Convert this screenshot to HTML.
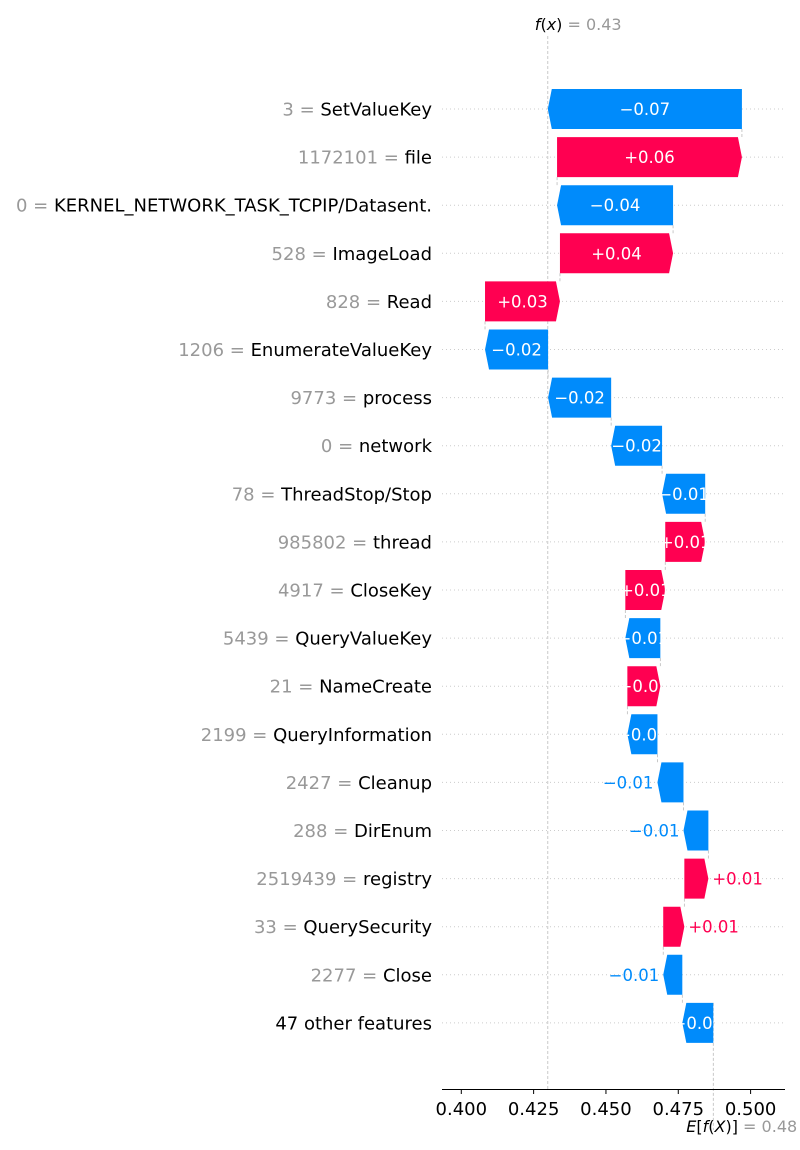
<!DOCTYPE html>
<html><head><meta charset="utf-8"><style>
body{margin:0;background:#fff;}
svg{display:block;font-family:"DejaVu Sans","Liberation Sans",sans-serif;}
</style></head><body>
<svg id="chart" width="800" height="1150" viewBox="0 0 800 1150" xmlns="http://www.w3.org/2000/svg"></svg>
<script>
const featureValues = ["3","1172101","0","528","828","1206","9773","0","78","985802","4917","5439","21","2199","2427","288","2519439","33","2277",""];
const featureNames = ["SetValueKey","file","KERNEL_NETWORK_TASK_TCPIP/Datasent.","ImageLoad","Read","EnumerateValueKey","process","network","ThreadStop/Stop","thread","CloseKey","QueryValueKey","NameCreate","QueryInformation","Cleanup","DirEnum","registry","QuerySecurity","Close","47 other features"];
const shapValues = [-0.0671,0.0639,-0.0401,0.0391,0.0259,-0.0218,-0.0218,-0.0176,-0.0149,0.0138,0.0138,-0.0121,0.0114,-0.0104,-0.0090,-0.0086,0.0083,0.0073,-0.0066,-0.0107];
const baseValue = 0.4871;
const baseValueLabel = "0.48";
const fxValueLabel = "0.43";
const xTicks = [0.400,0.425,0.450,0.475,0.500];
const xTickLabels = ["0.400","0.425","0.450","0.475","0.500"];

const NS="http://www.w3.org/2000/svg";
const svg=document.getElementById('chart');
const X=v=>461.3+(v-0.4)*2893;
const rowY=i=>109+i*48.1;
const RED="#ff0051",BLUE="#008bfb";
function mk(tag,attrs,txt){const e=document.createElementNS(NS,tag);for(const k in attrs)e.setAttribute(k,attrs[k]);if(txt!==undefined)e.textContent=txt;svg.appendChild(e);return e;}
const fmt=v=>(v<0?"\u2212":"+")+Math.abs(v).toFixed(2);

for(let i=0;i<featureNames.length;i++){
  const g=mk('line',{x1:442,x2:785,y1:rowY(i),y2:rowY(i),stroke:'#ccc','stroke-width':1,'stroke-dasharray':'1,3'});
  
  
}
const n=featureNames.length;
let cum=[];let c=baseValue;
for(let i=n-1;i>=0;i--){cum[i]={start:c,end:c+shapValues[i]};c+=shapValues[i];}
const fx=c;
let l=mk('line',{x1:X(fx),x2:X(fx),y1:36,y2:1089,stroke:'#bbb','stroke-width':0.8,'stroke-dasharray':'3,2'});


l=mk('line',{x1:X(baseValue),x2:X(baseValue),y1:rowY(n-1)-20,y2:1130,stroke:'#bbb','stroke-width':0.8,'stroke-dasharray':'3,2'});


for(let i=0;i<n-1;i++){
  const xv=X(cum[i].start);
  const cl=mk('line',{x1:xv,x2:xv,y1:rowY(i)+20,y2:rowY(i+1)-20,stroke:'#bbb','stroke-width':0.8,'stroke-dasharray':'3,2'});
  
  
}
for(let i=0;i<n;i++){
  const y=rowY(i),h=20,s=shapValues[i];
  const a=X(cum[i].start),b=X(cum[i].end);
  const left=Math.min(a,b),right=Math.max(a,b);const w=right-left;
  const hl=Math.min(4,w);
  let pts;
  if(s>0) pts=[[left,y-h],[right-hl,y-h],[right,y],[right-hl,y+h],[left,y+h]];
  else pts=[[right,y-h],[left+hl,y-h],[left,y],[left+hl,y+h],[right,y+h]];
  const p=mk('polygon',{points:pts.map(q=>q.join(',')).join(' '),fill:s>0?RED:BLUE});
  
  
  let t;
  if(w>=29){
    t=mk('text',{x:(left+right)/2,y:y+6,'text-anchor':'middle',fill:'#fff','font-size':16.5},fmt(s));
  } else if(s>0){
    t=mk('text',{x:right+4,y:y+6,'text-anchor':'start',fill:RED,'font-size':16.5},fmt(s));
  } else {
    t=mk('text',{x:left-4,y:y+6,'text-anchor':'end',fill:BLUE,'font-size':16.5},fmt(s));
  }
  
  
  const lab=mk('text',{x:432,y:y+6.5,'text-anchor':'end','font-size':18});
  
  
  if(featureValues[i]!==""){
    const ts=document.createElementNS(NS,'tspan');ts.setAttribute('fill','#999');ts.textContent=featureValues[i]+" = ";lab.appendChild(ts);
  }
  const tn=document.createElementNS(NS,'tspan');tn.setAttribute('fill','#000');tn.textContent=featureNames[i];lab.appendChild(tn);
}
l=mk('line',{x1:442,x2:785,y1:1089.5,y2:1089.5,stroke:'#000','stroke-width':1});


xTicks.forEach((v,k)=>{
  const tk=mk('line',{x1:X(v),x2:X(v),y1:1089.5,y2:1094,stroke:'#000','stroke-width':1});
  
  
  const tl=mk('text',{x:X(v),y:1115,'text-anchor':'middle','font-size':18,fill:'#000'},xTickLabels[k]);
  
  
});
let t=mk('text',{x:X(fx)-13,y:30,'text-anchor':'start','font-size':16});


t.innerHTML='<tspan font-style="italic" fill="#000">f</tspan><tspan fill="#000">(</tspan><tspan font-style="italic" fill="#000">x</tspan><tspan fill="#000">)</tspan><tspan fill="#999"> = '+fxValueLabel+'</tspan>';
t=mk('text',{x:X(baseValue)-27,y:1132,'text-anchor':'start','font-size':16});


t.innerHTML='<tspan font-style="italic" fill="#000">E</tspan><tspan fill="#000">[</tspan><tspan font-style="italic" fill="#000">f</tspan><tspan fill="#000">(</tspan><tspan font-style="italic" fill="#000">X</tspan><tspan fill="#000">)]</tspan><tspan fill="#999"> = '+baseValueLabel+'</tspan>';
</script>
</body></html>
